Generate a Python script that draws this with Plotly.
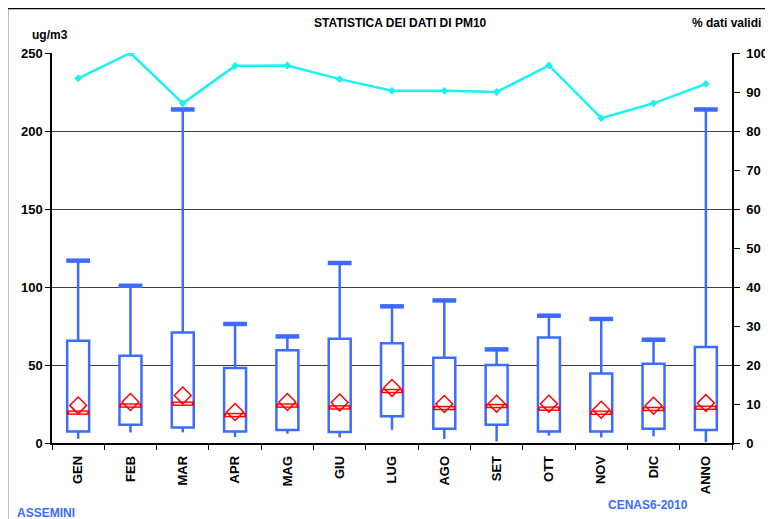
import plotly.graph_objects as go

categories = ["GEN", "FEB", "MAR", "APR", "MAG", "GIU", "LUG", "AGO", "SET", "OTT", "NOV", "DIC", "ANNO"]
whisker_low = [2.7, 6.8, 6.8, 3.8, 6.0, 3.6, 8.5, 2.6, 1.0, 4.7, 3.6, 4.3, 0.6]
q1 = [7.4, 11.7, 10.0, 7.4, 8.3, 7.1, 17.1, 9.2, 11.7, 7.4, 7.4, 9.2, 8.3]
median = [19.5, 24.0, 25.2, 17.9, 24.0, 22.8, 33.3, 22.4, 23.7, 22.0, 19.4, 21.8, 22.6]
q3 = [65.6, 56.0, 70.9, 48.1, 59.4, 66.9, 63.9, 54.7, 50.0, 67.7, 44.6, 50.8, 61.5]
whisker_high = [116.9, 100.8, 213.8, 76.3, 68.3, 115.4, 87.6, 91.4, 60.0, 81.6, 79.5, 66.2, 213.8]
mean = [24.1, 26.3, 30.5, 19.9, 26.3, 26.0, 35.3, 25.0, 25.2, 25.2, 21.3, 23.9, 25.6]
valid_pct = [93.5, 100.0, 87.1, 96.7, 96.8, 93.3, 90.3, 90.3, 90.0, 96.8, 83.3, 87.1, 92.1]

BLUE = "#3D6BFF"
RED = "#FF0000"
CYAN = "#1AF2F2"
FONT = "Liberation Sans, Arial, sans-serif"

# figure pixel geometry (page has an 8px body margin)
W, H = 765, 511
ML, MR, MT, MB = 44, 41, 45, 76
PW, PH = W - ML - MR, H - MT - MB


def px(xf):
    return (xf - ML) / PW


def py(yf):
    return 1 + (MT - yf) / PH


fig = go.Figure()

fig.add_trace(go.Bar(
    x=categories, y=[b - a for a, b in zip(q1, q3)], base=q1,
    width=0.42, marker=dict(color="white", line=dict(color=BLUE, width=2.5)),
    hoverinfo="skip", showlegend=False))

fig.add_trace(go.Scatter(
    x=categories, y=q3, mode="markers", marker=dict(size=1, opacity=0),
    error_y=dict(type="data", symmetric=False,
                 array=[h - t for h, t in zip(whisker_high, q3)],
                 arrayminus=[0] * len(q3), width=0, thickness=2.5, color=BLUE),
    hoverinfo="skip", showlegend=False))
fig.add_trace(go.Scatter(
    x=categories, y=q1, mode="markers", marker=dict(size=1, opacity=0),
    error_y=dict(type="data", symmetric=False,
                 array=[0] * len(q1),
                 arrayminus=[a - l for a, l in zip(q1, whisker_low)],
                 width=0, thickness=2.5, color=BLUE),
    hoverinfo="skip", showlegend=False))
fig.add_trace(go.Scatter(
    x=categories, y=whisker_high, mode="markers",
    marker=dict(symbol="line-ew", size=17, line=dict(color=BLUE, width=4.5)),
    hoverinfo="skip", showlegend=False))

fig.add_trace(go.Scatter(
    x=categories, y=median, mode="markers",
    marker=dict(symbol="line-ew", size=16, line=dict(color=RED, width=4.5)),
    hoverinfo="skip", showlegend=False))
fig.add_trace(go.Scatter(
    x=categories, y=median, mode="markers",
    marker=dict(symbol="line-ew", size=13, line=dict(color="#FFD6D6", width=1.8)),
    hoverinfo="skip", showlegend=False))

fig.add_trace(go.Scatter(
    x=categories, y=mean, mode="markers",
    marker=dict(symbol="diamond-open", size=13, color=RED, line=dict(color=RED, width=1.5)),
    hoverinfo="skip", showlegend=False))

fig.add_trace(go.Scatter(
    x=categories, y=valid_pct, yaxis="y2", mode="lines+markers",
    line=dict(color=CYAN, width=2.5),
    marker=dict(symbol="diamond", size=6, color=CYAN),
    hoverinfo="skip", showlegend=False))

bold = dict(family=FONT, size=12, color="black", weight="bold")
bold13 = dict(family=FONT, size=13, color="black", weight="bold")
blue_bold = dict(family=FONT, size=12, color=BLUE, weight="bold")

fig.update_layout(
    width=W, height=H, autosize=False,
    margin=dict(l=ML, r=MR, t=MT, b=MB, autoexpand=False),
    paper_bgcolor="white", plot_bgcolor="white",
    showlegend=False,
    font=dict(family=FONT, size=12, color="black"),
    xaxis=dict(
        type="category", tickangle=-90, tickfont=bold13, automargin=False,
        showgrid=False, showline=True, linecolor="black", linewidth=1.5,
        ticks="outside", ticklen=5, tickcolor="black", tickson="boundaries",
        ticklabelstandoff=6,
        range=[-0.5, len(categories) - 0.5], zeroline=False),
    yaxis=dict(
        range=[0, 250], dtick=50, tickfont=bold13, automargin=False,
        showgrid=True, gridcolor="#404040", gridwidth=1,
        showline=True, linecolor="black", linewidth=1.5,
        ticks="outside", ticklen=5, tickcolor="black", zeroline=False),
    yaxis2=dict(
        range=[0, 100], dtick=10, overlaying="y", side="right", tickfont=bold13,
        automargin=False, ticklabelstandoff=4,
        showgrid=False, showline=True, linecolor="black", linewidth=1.5,
        ticks="outside", ticklen=6, tickcolor="black", zeroline=False),
    annotations=[
        dict(text="STATISTICA DEI DATI DI PM10", x=px(393), y=py(15), xref="paper", yref="paper",
             showarrow=False, font=bold, xanchor="center", yanchor="middle"),
        dict(text="ug/m3", x=px(22), y=py(27), xref="paper", yref="paper",
             showarrow=False, font=bold, xanchor="left", yanchor="middle"),
        dict(text="% dati validi", x=px(755), y=py(15), xref="paper", yref="paper",
             showarrow=False, font=bold, xanchor="right", yanchor="middle"),
        dict(text="ASSEMINI", x=px(7), y=py(505), xref="paper", yref="paper",
             showarrow=False, font=blue_bold, xanchor="left", yanchor="middle"),
        dict(text="CENAS6-2010", x=px(640), y=py(497), xref="paper", yref="paper",
             showarrow=False, font=blue_bold, xanchor="center", yanchor="middle"),
    ],
    shapes=[
        dict(type="line", xref="paper", yref="paper", x0=px(-1), x1=px(W + 5), y0=py(0.5), y1=py(0.5),
             line=dict(color="black", width=1.5)),
        dict(type="line", xref="paper", yref="paper", x0=px(-0.5), x1=px(-0.5), y0=py(0), y1=py(H + 5),
             line=dict(color="black", width=1.5)),
    ],
)

fig.write_html("out.html")
